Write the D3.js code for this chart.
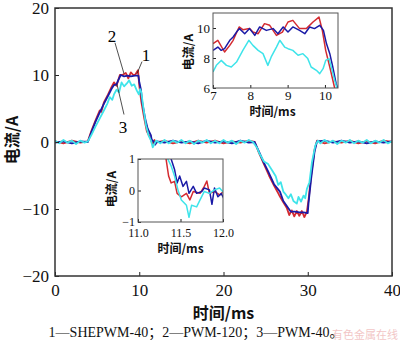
<!DOCTYPE html>
<html>
<head>
<meta charset="utf-8">
<script src="https://cdn.jsdelivr.net/npm/d3@7"></script>
<style>
    body { margin: 0; background: #fff; }
    svg { display: block; }
    .cjk { font-family: "Noto Sans CJK SC", sans-serif; font-weight: bold; fill: #111; }
</style>
</head>
<body>
<svg width="400" height="342"></svg>
<script>
// Основные кривые тока: [время, мс; ток, А]
const shepwm40 = [
    [0, 0.1], [1, -0.2], [2, 0.2], [3, -0.1], [3.9, 0.1],
    [4.3, 1.6], [4.8, 3.2], [5.3, 4.7], [5.5, 4.5], [5.8, 5.9], [6.3, 7.1], [6.7, 8.2], [7.0, 8.9], [7.3, 8.4],
    [7.7, 10.0], [8.0, 10.0], [8.4, 10.3], [8.7, 9.5], [9.0, 10.4], [9.3, 10.0], [9.5, 10.0], [9.85, 10.7],
    [10.0, 8.5], [10.25, 6.0], [10.6, 3.5], [10.9, 1.6], [11.35, 0.5], [11.5, -0.1], [11.6, -0.3], [11.8, 0.3], [12.0, -0.1],
    [13, 0.2], [14, -0.2], [15, 0.1], [16, -0.2], [17, 0.2], [18, -0.1], [19, 0.2], [20, -0.2], [21, 0.1], [22, -0.1], [23, 0.2], [23.7, 0],
    [24.2, -1.6], [24.8, -3.3], [25.4, -5.0], [26.0, -6.5], [26.6, -7.9], [27.1, -9.0], [27.5, -9.8], [27.8, -10.9],
    [28.1, -10.2], [28.4, -11.1], [28.7, -10.3], [29.0, -11.0], [29.3, -10.3], [29.6, -11.2], [29.9, -10.4],
    [30.1, -8.6], [30.4, -5.0], [30.8, -1.2], [31.1, 0.2],
    [32, -0.2], [33, 0.1], [34, -0.1], [35, 0.2], [36, -0.2], [37, 0.1], [38, -0.2], [39, 0.2], [40, 0]
];
const pwm120 = [
    [0, -0.1], [1, 0.1], [2, -0.2], [3, 0.1], [3.9, 0],
    [4.3, 1.4], [4.8, 3.0], [5.3, 4.4], [5.8, 5.7], [6.3, 6.9], [6.7, 7.9], [7.0, 8.5], [7.3, 8.6], [7.5, 9.2],
    [7.8, 10.0], [8.2, 9.8], [8.6, 9.9], [9.0, 9.8], [9.5, 9.9], [9.9, 9.9],
    [10.0, 9.0], [10.2, 7.8], [10.35, 6.0], [10.7, 3.5], [11.0, 2.0], [11.39, 1.0], [11.45, 0.5], [11.55, 0.2], [11.7, 0.1], [11.9, -0.4], [12.1, 0.1],
    [13, -0.1], [14, 0.2], [15, -0.1], [16, 0.1], [17, -0.2], [18, 0.2], [19, -0.1], [20, 0.1], [21, -0.2], [22, 0.2], [23, -0.1], [23.7, 0],
    [24.2, -1.4], [24.8, -3.1], [25.3, -4.4], [26.0, -6.3], [26.7, -7.4], [27.1, -8.8], [27.7, -9.9], [28.0, -10.4],
    [28.5, -10.4], [29.0, -10.5], [29.5, -10.5], [30.0, -10.6],
    [30.1, -9.0], [30.4, -5.5], [30.8, -1.5], [31.1, 0.1],
    [32, 0.2], [33, -0.1], [34, 0.2], [35, -0.1], [36, 0.1], [37, -0.2], [38, 0.1], [39, -0.1], [40, 0.1]
];
const pwm40 = [
    [0, 0.2], [0.5, -0.2], [1, 0.3], [1.5, -0.1], [2, 0.2], [2.5, -0.3], [3, 0.2], [3.5, -0.1], [3.9, 0.1],
    [4.3, 1.0], [4.8, 2.3], [5.3, 3.5], [5.8, 4.7], [6.2, 5.7], [6.5, 6.7], [6.8, 6.3], [7.0, 7.1], [7.3, 7.8], [7.6, 7.4],
    [7.9, 8.9], [8.2, 8.3], [8.5, 8.7], [8.8, 9.2], [9.1, 8.4], [9.4, 8.6], [9.7, 7.7], [9.95, 7.1], [10.1, 7.9], [10.25, 7.4],
    [10.5, 5.0], [10.8, 2.5], [11.1, 1.0], [11.4, 0.2], [11.6, -0.8], [11.8, -0.3], [12.0, 0.2],
    [12.5, -0.2], [13, 0.3], [13.5, -0.2], [14, 0.2], [14.5, -0.1], [15, 0.3], [15.5, -0.2], [16, 0.2], [16.5, -0.3], [17, 0.2],
    [17.5, -0.1], [18, 0.3], [18.5, -0.2], [19, 0.2], [19.5, -0.2], [20, 0.3], [20.5, -0.1], [21, 0.2], [21.5, -0.3], [22, 0.2],
    [22.5, -0.1], [23, 0.3], [23.5, 0],
    [24.0, -0.9], [24.3, -1.8], [24.8, -2.9], [25.3, -3.3], [25.8, -4.3], [26.2, -5.1], [26.5, -6.4], [26.8, -6.0], [27.1, -7.4],
    [27.3, -7.7], [27.7, -8.4], [28.0, -7.8], [28.3, -8.8], [28.7, -9.2], [28.9, -8.2], [29.2, -8.9], [29.5, -8.0],
    [29.7, -8.4], [29.9, -7.0], [30.2, -6.0], [30.5, -3.0], [30.9, -0.5], [31.2, 0.2],
    [31.5, -0.2], [32, 0.3], [32.5, -0.1], [33, 0.2], [33.5, -0.3], [34, 0.2], [34.5, -0.1], [35, 0.3], [35.5, -0.2], [36, 0.2],
    [36.5, -0.1], [37, 0.3], [37.5, -0.2], [38, 0.2], [38.5, -0.1], [39, 0.3], [39.5, -0.2], [40, 0.1]
];

// Вставка 1: 7 - 10.35 мс
const zoomA_shepwm40 = [
    [7.00, 8.96], [7.13, 9.18], [7.31, 8.40], [7.45, 8.84], [7.54, 9.18], [7.70, 10.07], [7.80, 9.89], [7.98, 9.96],
    [8.07, 9.73], [8.21, 9.62], [8.38, 10.29], [8.52, 10.18], [8.70, 9.51], [8.86, 9.73], [9.01, 10.40], [9.14, 10.51],
    [9.32, 9.96], [9.50, 9.96], [9.68, 10.40], [9.84, 10.73], [9.93, 9.84], [10.02, 8.51], [10.13, 7.40], [10.26, 6.00], [10.3, 5.5]
];
const zoomA_pwm120 = [
    [7.00, 8.51], [7.13, 8.73], [7.22, 8.51], [7.31, 8.62], [7.45, 9.18], [7.54, 9.40], [7.63, 9.73], [7.71, 9.96],
    [7.85, 9.62], [7.98, 9.96], [8.12, 9.51], [8.25, 10.07], [8.43, 9.84], [8.61, 9.96], [8.74, 9.62], [8.88, 10.07],
    [9.01, 9.73], [9.14, 10.07], [9.32, 9.84], [9.46, 9.62], [9.59, 10.07], [9.72, 9.96], [9.86, 10.18], [9.96, 9.84],
    [10.04, 8.96], [10.13, 8.29], [10.21, 7.40], [10.30, 6.29], [10.34, 6.0], [10.4, 5.5]
];
const zoomA_pwm40 = [
    [7.00, 7.07], [7.09, 7.51], [7.22, 7.84], [7.36, 7.51], [7.49, 7.40], [7.63, 7.73], [7.80, 8.51], [7.96, 9.18],
    [8.07, 8.84], [8.21, 8.51], [8.34, 8.29], [8.47, 7.51], [8.56, 8.07], [8.70, 8.73], [8.79, 9.18], [8.92, 8.73],
    [9.01, 8.62], [9.14, 8.51], [9.28, 8.18], [9.41, 8.29], [9.54, 7.96], [9.63, 7.40], [9.77, 7.18], [9.86, 6.96],
    [9.95, 7.29], [10.02, 7.84], [10.11, 7.96], [10.17, 7.40], [10.26, 6.51], [10.32, 6.00], [10.4, 5.5]
];

// Вставка 2: 11.0 - 12.0 мс
const zoomB_shepwm40 = [
    [11.25, 1.5], [11.33, 1.0], [11.36, 0.46], [11.39, 0.24], [11.43, 0.29], [11.46, -0.09], [11.51, -0.20], [11.57, -0.09],
    [11.61, -0.30], [11.65, -0.03], [11.73, -0.09], [11.78, 0.13], [11.81, 0.30], [11.84, -0.09], [11.90, -0.03], [11.96, -0.14], [12.02, 0]
];
const zoomB_pwm120 = [
    [11.36, 1.5], [11.39, 1.0], [11.43, 0.67], [11.46, 0.24], [11.49, 0.46], [11.53, 0.13], [11.57, 0.29], [11.60, -0.09],
    [11.65, 0.13], [11.69, -0.09], [11.75, -0.03], [11.78, 0.08], [11.84, 0.02], [11.87, -0.44], [11.90, 0.08],
    [11.94, -0.20], [11.98, -0.10], [12.02, -0.3]
];
const zoomB_pwm40 = [
    [11.30, 1.5], [11.35, 1.0], [11.39, 0.78], [11.43, 0.46], [11.47, 0.02], [11.51, -0.30], [11.57, -0.47], [11.60, -0.85],
    [11.63, -0.47], [11.69, -0.52], [11.73, -0.30], [11.78, -0.03], [11.84, -0.09], [11.90, 0.02], [11.96, 0.08], [12.02, -0.1]
];

const mainTicksX = [0, 10, 20, 30, 40];
const mainTicksY = [-20, -10, 0, 10, 20];
const zoomATicksX = [7, 8, 9, 10];
const zoomATicksY = [6, 8, 10];
const zoomBTicksX = [11.0, 11.5, 12.0];
const zoomBTicksY = [-1, 0, 1];
const seriesLabels = ["1", "2", "3"];
const caption = "1—SHEPWM-40；2—PWM-120；3—PWM-40。";
const yTitle = "电流/A";
const xTitle = "时间/ms";

const colors = ["#d42a30", "#1a1aa6", "#3fe4ea"];
const serif = "'Liberation Serif', 'Times New Roman', serif";

let svg = d3.select("svg");

// Рисует одну панель: рамка, оси, кривые
function drawPanel(cfg) {
    let x = d3.scaleLinear().domain(cfg.xDomain).range([cfg.left, cfg.right]);
    let y = d3.scaleLinear().domain(cfg.yDomain).range([cfg.bottom, cfg.top]);

    let g = svg.append("g");
    g.append("rect")
        .attr("x", cfg.left).attr("y", cfg.top)
        .attr("width", cfg.right - cfg.left).attr("height", cfg.bottom - cfg.top)
        .attr("fill", "#fff");

    let clipId = "clip" + cfg.id;
    g.append("clipPath").attr("id", clipId)
        .append("rect")
        .attr("x", cfg.left).attr("y", cfg.top)
        .attr("width", cfg.right - cfg.left).attr("height", cfg.bottom - cfg.top);

    let line = d3.line().x(d => x(d[0])).y(d => y(d[1]));
    cfg.series.forEach((s, i) => {
        g.append("path")
            .datum(s)
            .attr("clip-path", `url(#${clipId})`)
            .attr("fill", "none")
            .attr("stroke", colors[i])
            .attr("stroke-width", cfg.lineWidth)
            .attr("stroke-linejoin", "round")
            .attr("d", line);
    });

    let axisX = d3.axisBottom(x).tickValues(cfg.ticksX).tickSize(-cfg.tick).tickPadding(cfg.padX).tickFormat(cfg.fmt || d3.format("d"));
    let axisY = d3.axisLeft(y).tickValues(cfg.ticksY).tickSize(-cfg.tick).tickPadding(cfg.padY).tickFormat(d3.format("d"));

    let gx = g.append("g").attr("transform", `translate(0, ${cfg.bottom})`).call(axisX);
    let gy = g.append("g").attr("transform", `translate(${cfg.left}, 0)`).call(axisY);
    [gx, gy].forEach(a => {
        a.attr("font-family", serif).attr("font-size", cfg.fontSize);
        a.select(".domain").remove();
        a.selectAll(".tick line").attr("stroke", "#222");
        a.selectAll(".tick text")
            .style("font-family", serif)
            .style("font-size", cfg.fontSize + "px")
            .attr("fill", "#111");
    });

    g.append("rect")
        .attr("x", cfg.left).attr("y", cfg.top)
        .attr("width", cfg.right - cfg.left).attr("height", cfg.bottom - cfg.top)
        .attr("fill", "none")
        .attr("stroke", cfg.frameColor)
        .attr("stroke-width", cfg.frameWidth);

    // подписи осей
    g.append("text").attr("class", "cjk")
        .attr("x", (cfg.left + cfg.right) / 2 + cfg.xTitleDx).attr("y", cfg.xTitleY)
        .attr("text-anchor", "middle")
        .style("font-size", cfg.titleSize + "px")
        .text(xTitle);
    g.append("text").attr("class", "cjk")
        .attr("transform", `translate(${cfg.yTitleX}, ${cfg.yTitleY}) rotate(-90)`)
        .attr("text-anchor", "middle")
        .style("font-size", cfg.titleSize + "px")
        .text(yTitle);

    return [x, y];
}

const [scX, scY] = drawPanel({
    id: "main", xDomain: [0, 40], yDomain: [-20, 20],
    left: 55, right: 392, top: 8, bottom: 276,
    series: [shepwm40, pwm120, pwm40], lineWidth: 1.8,
    ticksX: mainTicksX, ticksY: mainTicksY, tick: 4, padX: 8, padY: 6,
    fontSize: 17, frameColor: "#333", frameWidth: 1.5,
    titleSize: 16, xTitleDx: 0, xTitleY: 319, yTitleX: 18, yTitleY: 140
});

// Номера кривых с выносками (в координатах данных)
const notes = [
    {text: seriesLabels[0], at: [10.8, 13.0], from: [10.33, 12.0], to: [9.73, 10.2]},
    {text: seriesLabels[1], at: [6.77, 15.8], from: [7.12, 14.8], to: [8.19, 10.2]},
    {text: seriesLabels[2], at: [8.07, 2.3], from: [8.19, 4.1], to: [7.36, 8.6]}
];
notes.forEach(n => {
    svg.append("line")
        .attr("x1", scX(n.from[0])).attr("y1", scY(n.from[1]))
        .attr("x2", scX(n.to[0])).attr("y2", scY(n.to[1]))
        .attr("stroke", "#222").attr("stroke-width", 0.8);
    svg.append("text")
        .attr("x", scX(n.at[0])).attr("y", scY(n.at[1]))
        .attr("text-anchor", "middle").attr("dy", "0.35em")
        .style("font-family", serif).style("font-size", "17px")
        .text(n.text);
});

drawPanel({
    id: "a", xDomain: [7, 10.35], yDomain: [6, 11],
    left: 213, right: 338, top: 13, bottom: 88,
    series: [zoomA_shepwm40, zoomA_pwm120, zoomA_pwm40], lineWidth: 1.5,
    ticksX: zoomATicksX, ticksY: zoomATicksY, tick: 3, padX: 3, padY: 3,
    fontSize: 13, frameColor: "#555", frameWidth: 1,
    titleSize: 12, xTitleDx: -3, xTitleY: 116, yTitleX: 193, yTitleY: 52
});

drawPanel({
    id: "b", xDomain: [11, 12], yDomain: [-1, 1],
    left: 138, right: 223, top: 159, bottom: 222,
    series: [zoomB_shepwm40, zoomB_pwm120, zoomB_pwm40], lineWidth: 1.5,
    ticksX: zoomBTicksX, ticksY: zoomBTicksY, tick: 3, padX: 6, padY: 3, fmt: d3.format(".1f"),
    fontSize: 12, frameColor: "#555", frameWidth: 1,
    titleSize: 12, xTitleDx: 0, xTitleY: 253, yTitleX: 116, yTitleY: 189
});

// Подпись под рисунком
svg.append("text")
    .attr("x", 196).attr("y", 337)
    .attr("text-anchor", "middle")
    .style("font-family", "'Liberation Serif', 'Noto Sans CJK SC', serif")
    .style("font-size", "14px")
    .attr("fill", "#111")
    .text(caption);

// водяной знак
svg.append("text")
    .attr("x", 398).attr("y", 339)
    .attr("text-anchor", "end")
    .style("font-family", "'Noto Sans CJK SC', sans-serif")
    .style("font-size", "11px")
    .attr("fill", "#e07070")
    .attr("opacity", 0.4)
    .text("有色金属在线");
</script>
</body>
</html>
